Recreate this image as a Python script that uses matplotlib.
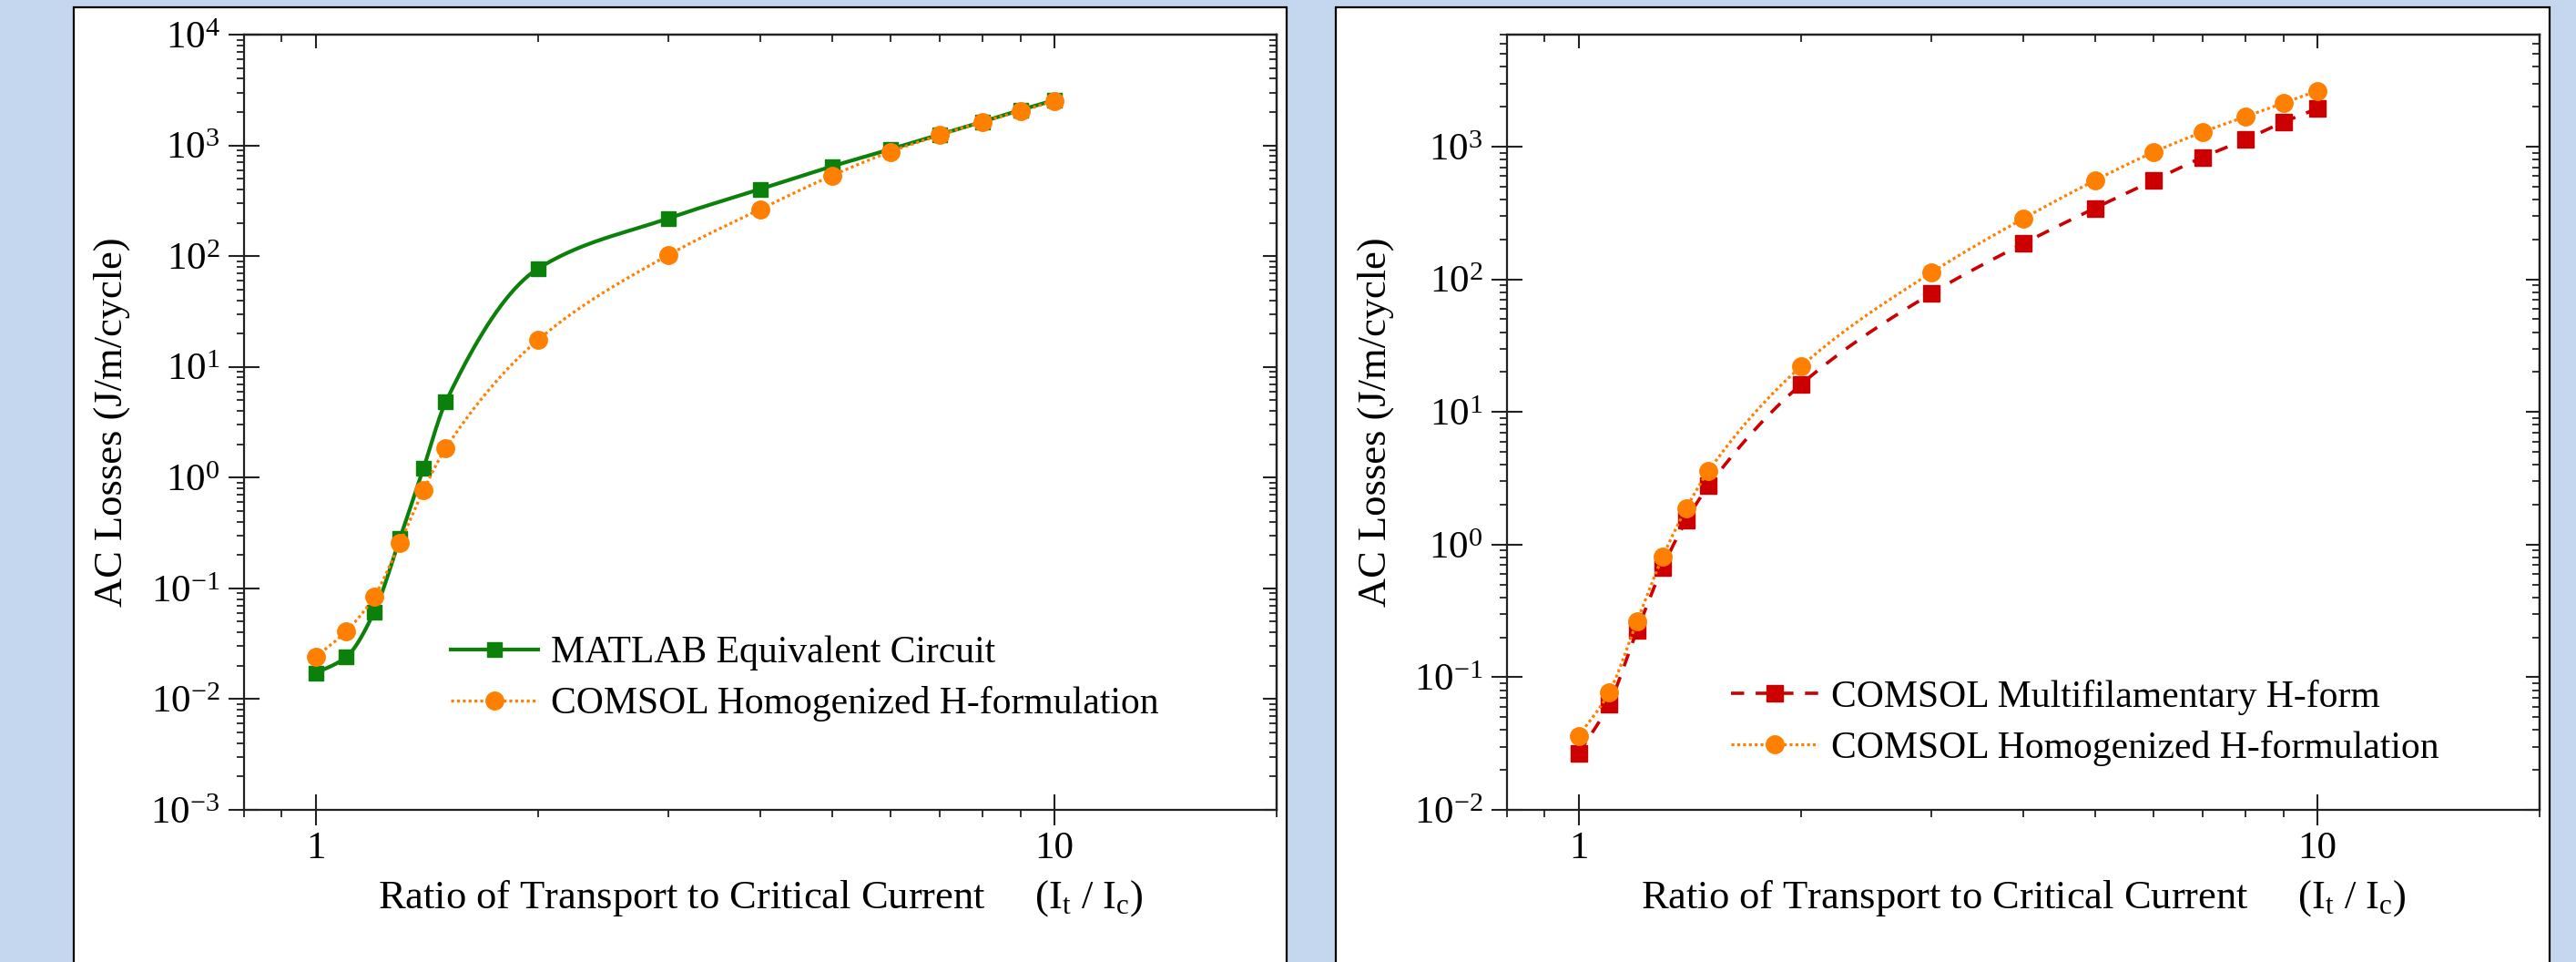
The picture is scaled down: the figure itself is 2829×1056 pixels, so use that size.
import numpy as np
import matplotlib
matplotlib.use('Agg')
import matplotlib.pyplot as plt
import matplotlib.ticker as ticker
from matplotlib.patches import Rectangle

plt.rcParams['font.family'] = ['Liberation Serif', 'DejaVu Serif']
plt.rcParams['mathtext.fontset'] = 'custom'
plt.rcParams['mathtext.rm'] = 'Liberation Serif'
plt.rcParams['mathtext.it'] = 'Liberation Serif:italic'

# ---------------- datos ----------------
ratio = [1, 1.1, 1.2, 1.3, 1.4, 1.5, 2, 3, 4, 5, 6, 7, 8, 9, 10]

# panel izquierdo
matlab_circuit = [0.0171, 0.024, 0.061, 0.28, 1.22, 4.8, 77, 219, 403, 646,
                  923, 1253, 1637, 2086, 2557]
comsol_homog_izq = [0.024, 0.041, 0.084, 0.255, 0.77, 1.84, 17.5, 102, 265, 533,
                    877, 1237, 1637, 2033, 2523]

# panel derecho
comsol_multi = [0.0267, 0.063, 0.225, 0.675, 1.53, 2.78, 16.1, 78, 186, 344,
                556, 834, 1136, 1531, 1936]
comsol_homog_der = [0.036, 0.077, 0.264, 0.81, 1.89, 3.6, 22, 112, 287, 556,
                    908, 1291, 1687, 2133, 2636]

lbl_matlab = 'MATLAB Equivalent Circuit'
lbl_multi = 'COMSOL Multifilamentary H-form'
lbl_homog = 'COMSOL Homogenized H-formulation'

VERDE = '#0b800b'
NARANJA = '#ff8000'
ROJO = '#cc0000'
FONDO = '#c5d7ee'
FS_TICK = 31
FS_LABEL = 32
FS_LEG = 30


def curva_suave(x, y, n=40):
    # trazo tipo spline monotona (pchip) en espacio log-log, solo para la linea
    lx, ly = np.log10(x), np.log10(y)
    h = np.diff(lx)
    d = np.diff(ly) / h
    m = np.zeros_like(lx)
    for k in range(1, len(lx) - 1):
        if d[k - 1] * d[k] > 0:
            w1 = 2 * h[k] + h[k - 1]
            w2 = h[k] + 2 * h[k - 1]
            m[k] = (w1 + w2) / (w1 / d[k - 1] + w2 / d[k])
    m[0], m[-1] = d[0], d[-1]
    xs, ys = [], []
    for k in range(len(h)):
        t = np.linspace(0, 1, n, endpoint=False)
        h00 = 2 * t**3 - 3 * t**2 + 1
        h10 = t**3 - 2 * t**2 + t
        h01 = -2 * t**3 + 3 * t**2
        h11 = t**3 - t**2
        xs.append(lx[k] + t * h[k])
        ys.append(h00 * ly[k] + h10 * h[k] * m[k] + h01 * ly[k + 1] + h11 * h[k] * m[k + 1])
    xs.append([lx[-1]])
    ys.append([ly[-1]])
    return 10 ** np.concatenate(xs), 10 ** np.concatenate(ys)


def serie(ax, x, y, color, ls, lw, marker, ms, label):
    xs, ys = curva_suave(x, y)
    ax.plot(xs, ys, color=color, linestyle=ls, lw=lw)
    ax.plot(x, y, linestyle='none', marker=marker, ms=ms, color=color)
    # handle para la leyenda
    ax.plot([], [], color=color, linestyle=ls, lw=lw, marker=marker, ms=ms, label=label)


def formato_ejes(ax, ylim):
    ax.set_xscale('log')
    ax.set_yscale('log')
    ax.set_xlim(0.8, 20)
    ax.set_ylim(*ylim)
    for s in ax.spines.values():
        s.set_linewidth(1.6)
        s.set_color('#222222')
    ax.xaxis.set_major_locator(ticker.FixedLocator([1, 10]))
    ax.xaxis.set_major_formatter(ticker.FuncFormatter(lambda v, p: f'{v:g}'))
    ax.xaxis.set_minor_locator(ticker.LogLocator(base=10, subs=np.arange(2, 10), numticks=20))
    ax.xaxis.set_minor_formatter(ticker.NullFormatter())
    ax.yaxis.set_major_locator(ticker.LogLocator(base=10, numticks=20))
    ax.yaxis.set_major_formatter(ticker.LogFormatterMathtext())
    ax.yaxis.set_minor_locator(ticker.LogLocator(base=10, subs=np.arange(2, 10), numticks=20))
    ax.yaxis.set_minor_formatter(ticker.NullFormatter())
    ax.tick_params(which='major', direction='inout', length=24, width=1.5,
                   labelsize=FS_TICK, color='#222222')
    ax.tick_params(axis='x', which='major', pad=5)
    ax.tick_params(axis='y', which='major', pad=7)
    ax.tick_params(which='minor', direction='out', length=6, width=1.3, color='#222222')

    arriba = ax.secondary_xaxis('top')
    arriba.xaxis.set_major_locator(ticker.FixedLocator([1, 10]))
    arriba.xaxis.set_minor_locator(ticker.LogLocator(base=10, subs=np.arange(2, 10), numticks=20))
    arriba.xaxis.set_major_formatter(ticker.NullFormatter())
    arriba.xaxis.set_minor_formatter(ticker.NullFormatter())
    arriba.tick_params(which='major', direction='in', length=11, width=1.5, color='#222222')
    arriba.tick_params(which='minor', direction='in', length=6, width=1.3, color='#222222')
    arriba.spines['top'].set_linewidth(1.6)

    der = ax.secondary_yaxis('right')
    der.yaxis.set_major_locator(ticker.LogLocator(base=10, numticks=20))
    der.yaxis.set_minor_locator(ticker.LogLocator(base=10, subs=np.arange(2, 10), numticks=20))
    der.yaxis.set_major_formatter(ticker.NullFormatter())
    der.yaxis.set_minor_formatter(ticker.NullFormatter())
    der.tick_params(which='major', direction='in', length=11, width=1.5, color='#222222')
    der.tick_params(which='minor', direction='in', length=6, width=1.3, color='#222222')
    der.spines['right'].set_linewidth(1.6)

    ax.set_xlabel('Ratio of Transport to Critical Current     '
                  r'$(\mathrm{I}_\mathrm{t}\ /\ \mathrm{I}_\mathrm{c})$',
                  fontsize=FS_LABEL, labelpad=9)
    ax.set_ylabel('AC Losses (J/m/cycle)', fontsize=FS_LABEL, labelpad=16)


W, H = 2829, 1056
fig = plt.figure(figsize=(W / 100, H / 100), dpi=100, facecolor=FONDO)

# paneles blancos
for x0, x1 in [(81, 1413), (1467, 2800)]:
    fig.patches.append(Rectangle((x0 / W, -0.02), (x1 - x0) / W, 1.02 - 8 / H,
                                 transform=fig.transFigure, facecolor='white',
                                 edgecolor='black', lw=1.6, zorder=-1))

ax1 = fig.add_axes([268 / W, 1 - 889 / H, (1402 - 268) / W, (889 - 38) / H])
ax2 = fig.add_axes([1655 / W, 1 - 889 / H, (2789 - 1655) / W, (889 - 38) / H])

serie(ax1, ratio, matlab_circuit, VERDE, '-', 3.0, 's', 12, lbl_matlab)
serie(ax1, ratio, comsol_homog_izq, NARANJA, (0, (1, 1)), 2.3, 'o', 14, lbl_homog)
formato_ejes(ax1, (1e-3, 1e4))

serie(ax2, ratio, comsol_multi, ROJO, (0, (4, 3.5)), 2.6, 's', 12.5, lbl_multi)
serie(ax2, ratio, comsol_homog_der, NARANJA, (0, (1, 1)), 2.3, 'o', 14, lbl_homog)
formato_ejes(ax2, (1e-2, 7e3))

for ax, xh, yh in [(ax1, 495, 698), (ax2, 1901, 746)]:
    ax.legend(loc='upper left', bbox_to_anchor=(xh / W, 1 - yh / H),
              bbox_transform=fig.transFigure, frameon=False, fontsize=FS_LEG,
              handlelength=2.3, handletextpad=0.35, labelspacing=0.4,
              borderpad=0, borderaxespad=0)

fig.savefig('out.png', dpi=100, facecolor=FONDO)
